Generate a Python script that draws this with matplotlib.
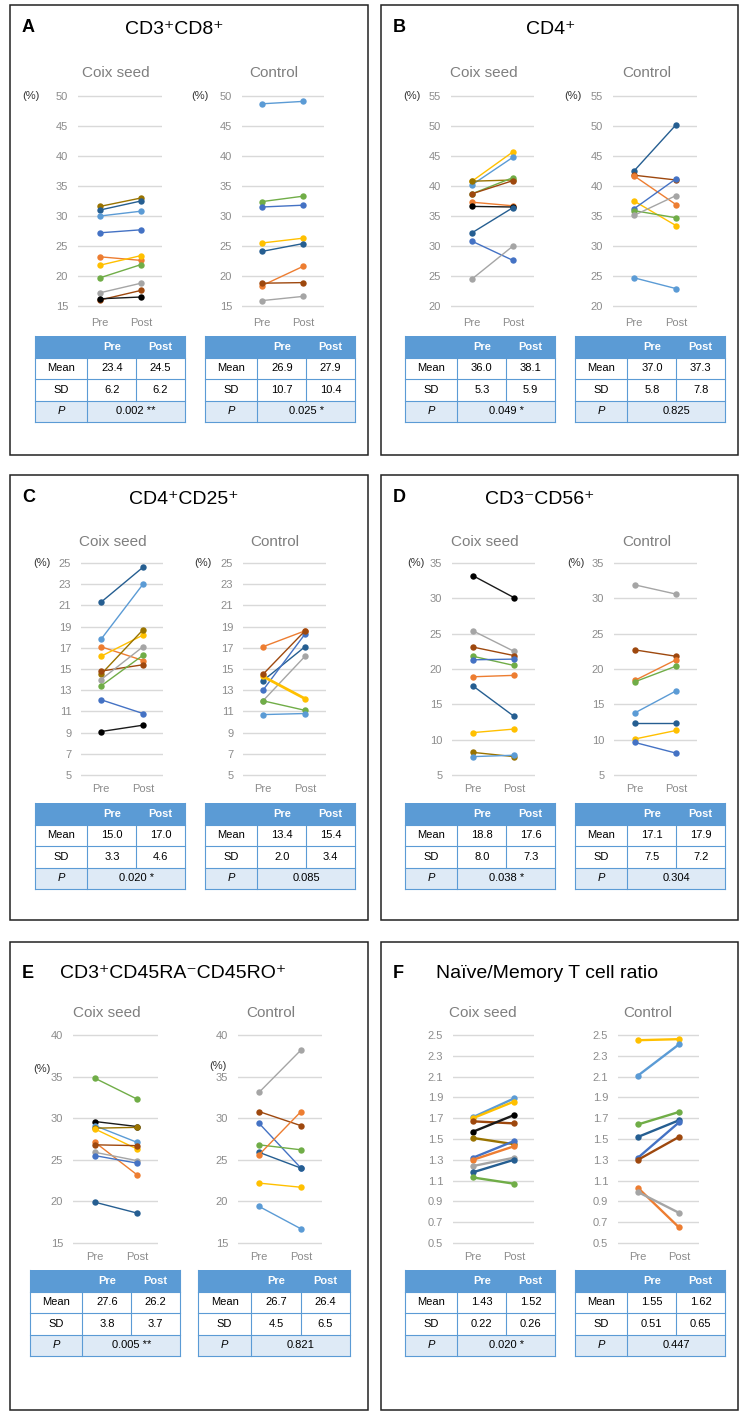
import matplotlib
matplotlib.use('Agg')
import matplotlib.pyplot as plt
from matplotlib.patches import Rectangle

plt.rcParams['font.family'] = ['Liberation Sans', 'DejaVu Sans']

# ---------------- data ----------------
letters = ['A', 'B', 'C', 'D', 'E', 'F']
titles = ['CD3\u207aCD8\u207a', 'CD4\u207a', 'CD4\u207aCD25\u207a', 'CD3\u207bCD56\u207a',
          'CD3\u207aCD45RA\u207bCD45RO\u207a', 'Na\u00efve/Memory T cell ratio']
groups = ['Coix seed', 'Control']
time_labels = ['Pre', 'Post']
row_labels = ['Mean', 'SD', 'P']

# Panel A: CD3+CD8+
A_yticks = [15, 20, 25, 30, 35, 40, 45, 50]
A_coix_pre = [31.6, 31.0, 30.0, 27.2, 23.2, 21.8, 19.7, 17.2, 16.0, 16.2]
A_coix_post = [33.0, 32.5, 30.8, 27.7, 22.6, 23.4, 21.9, 18.8, 17.6, 16.5]
A_coix_col = ['olive', 'dblue', 'lblue', 'blue', 'orange', 'yellow', 'green', 'gray', 'brown', 'black']
A_ctrl_pre = [48.7, 32.4, 31.5, 25.5, 24.1, 18.4, 18.8, 15.9]
A_ctrl_post = [49.1, 33.3, 31.8, 26.3, 25.4, 21.6, 18.9, 16.6]
A_ctrl_col = ['lblue', 'green', 'blue', 'yellow', 'dblue', 'orange', 'brown', 'gray']
A_coix_mean, A_coix_sd, A_coix_p = [23.4, 24.5], [6.2, 6.2], '0.002 **'
A_ctrl_mean, A_ctrl_sd, A_ctrl_p = [26.9, 27.9], [10.7, 10.4], '0.025 *'

# Panel B: CD4+
B_yticks = [20, 25, 30, 35, 40, 45, 50, 55]
B_coix_pre = [40.8, 40.2, 40.8, 38.7, 38.7, 37.3, 36.6, 32.2, 30.8, 24.5]
B_coix_post = [45.7, 44.8, 41.0, 41.4, 40.9, 36.7, 36.5, 36.4, 27.6, 30.0]
B_coix_col = ['yellow', 'lblue', 'olive', 'green', 'brown', 'orange', 'black', 'dblue', 'blue', 'gray']
B_ctrl_pre = [42.5, 41.8, 41.7, 37.5, 36.2, 35.9, 35.1, 24.7]
B_ctrl_post = [50.2, 41.0, 36.9, 33.4, 41.2, 34.7, 38.4, 22.9]
B_ctrl_col = ['dblue', 'brown', 'orange', 'yellow', 'blue', 'green', 'gray', 'lblue']
B_coix_mean, B_coix_sd, B_coix_p = [36.0, 38.1], [5.3, 5.9], '0.049 *'
B_ctrl_mean, B_ctrl_sd, B_ctrl_p = [37.0, 37.3], [5.8, 7.8], '0.825'

# Panel C: CD4+CD25+
C_yticks = [5, 7, 9, 11, 13, 15, 17, 19, 21, 23, 25]
C_coix_pre = [21.3, 17.8, 17.1, 16.2, 14.5, 14.8, 14.0, 13.4, 12.1, 9.1]
C_coix_post = [24.6, 23.0, 15.8, 18.2, 18.7, 15.4, 17.1, 16.3, 10.8, 9.7]
C_coix_col = ['dblue', 'lblue', 'orange', 'yellow', 'olive', 'brown', 'gray', 'green', 'blue', 'black']
C_ctrl_pre = [17.1, 13.9, 13.0, 12.0, 12.0, 10.7, 14.3, 14.5]
C_ctrl_post = [18.6, 17.1, 18.3, 16.2, 11.1, 10.8, 12.2, 18.6]
C_ctrl_col = ['orange', 'dblue', 'blue', 'gray', 'green', 'lblue', 'yellow', 'brown']
C_coix_mean, C_coix_sd, C_coix_p = [15.0, 17.0], [3.3, 4.6], '0.020 *'
C_ctrl_mean, C_ctrl_sd, C_ctrl_p = [13.4, 15.4], [2.0, 3.4], '0.085'

# Panel D: CD3-CD56+
D_yticks = [5, 10, 15, 20, 25, 30, 35]
D_coix_pre = [33.2, 25.4, 23.1, 21.8, 21.3, 18.9, 17.6, 11.0, 8.2, 7.6]
D_coix_post = [30.1, 22.5, 21.9, 20.5, 21.4, 19.1, 13.3, 11.5, 7.6, 7.8]
D_coix_col = ['black', 'gray', 'brown', 'green', 'blue', 'orange', 'dblue', 'yellow', 'olive', 'lblue']
D_ctrl_pre = [31.9, 22.7, 18.4, 18.2, 13.8, 12.4, 10.1, 9.6]
D_ctrl_post = [30.6, 21.8, 21.3, 20.4, 16.9, 12.4, 11.3, 8.1]
D_ctrl_col = ['gray', 'brown', 'orange', 'green', 'lblue', 'dblue', 'yellow', 'blue']
D_coix_mean, D_coix_sd, D_coix_p = [18.8, 17.6], [8.0, 7.3], '0.038 *'
D_ctrl_mean, D_ctrl_sd, D_ctrl_p = [17.1, 17.9], [7.5, 7.2], '0.304'

# Panel E: CD3+CD45RA-CD45RO+
E_yticks = [15, 20, 25, 30, 35, 40]
E_coix_pre = [34.8, 29.6, 29.1, 28.8, 28.7, 27.1, 26.8, 25.9, 25.5, 19.9]
E_coix_post = [32.3, 29.0, 27.1, 28.9, 26.3, 23.2, 26.7, 24.9, 24.6, 18.6]
E_coix_col = ['green', 'black', 'lblue', 'olive', 'yellow', 'orange', 'brown', 'gray', 'blue', 'dblue']
E_ctrl_pre = [33.1, 30.8, 29.4, 26.8, 25.9, 25.6, 22.2, 19.4]
E_ctrl_post = [38.2, 29.1, 24.0, 26.2, 24.0, 30.8, 21.7, 16.7]
E_ctrl_col = ['gray', 'brown', 'blue', 'green', 'dblue', 'orange', 'yellow', 'lblue']
E_coix_mean, E_coix_sd, E_coix_p = [27.6, 26.2], [3.8, 3.7], '0.005 **'
E_ctrl_mean, E_ctrl_sd, E_ctrl_p = [26.7, 26.4], [4.5, 6.5], '0.821'

# Panel F: Naive/Memory T cell ratio
F_yticks = [0.5, 0.7, 0.9, 1.1, 1.3, 1.5, 1.7, 1.9, 2.1, 2.3, 2.5]
F_coix_pre = [1.71, 1.70, 1.67, 1.57, 1.51, 1.32, 1.30, 1.24, 1.18, 1.13]
F_coix_post = [1.89, 1.86, 1.65, 1.73, 1.45, 1.48, 1.43, 1.32, 1.30, 1.07]
F_coix_col = ['lblue', 'yellow', 'brown', 'black', 'olive', 'blue', 'orange', 'gray', 'dblue', 'green']
F_ctrl_pre = [2.45, 2.11, 1.64, 1.52, 1.32, 1.30, 1.03, 0.99]
F_ctrl_post = [2.46, 2.41, 1.76, 1.68, 1.66, 1.52, 0.65, 0.79]
F_ctrl_col = ['yellow', 'lblue', 'green', 'dblue', 'blue', 'brown', 'orange', 'gray']
F_coix_mean, F_coix_sd, F_coix_p = [1.43, 1.52], [0.22, 0.26], '0.020 *'
F_ctrl_mean, F_ctrl_sd, F_ctrl_p = [1.55, 1.62], [0.51, 0.65], '0.447'

# ---------------- styles ----------------
COL = {'lblue': '#5B9BD5', 'dblue': '#255E91', 'blue': '#4472C4', 'orange': '#ED7D31',
       'brown': '#9E480E', 'gray': '#A5A5A5', 'yellow': '#FFC000', 'green': '#70AD47',
       'black': '#1A1A1A', 'olive': '#997300'}
HEAD = '#5B9BD5'
PFILL = '#DEEAF6'
GRID = '#D9D9D9'
TICKC = '#8C8C8C'
SUBC = '#7F7F7F'

W, H = 748, 1418
fig = plt.figure(figsize=(W / 100, H / 100), dpi=100)
ov = fig.add_axes([0, 0, 1, 1])
ov.set_xlim(0, W)
ov.set_ylim(H, 0)
ov.set_axis_off()

g = globals()

# layout (pixels)
L = {
    'A': dict(box=(10, 5, 368, 455), tx=174, ty=29, lx=22, ly=27, ytop=96, ybot=306, prey=323, subty=73,
              ax=[(78, 162, 100, 141), (242, 324, 262, 303)], subx=[116, 274],
              pct=[(31, 96), (200, 96)], tab=[(35, 185), (205, 355)], taby=336, lw=1.0),
    'B': dict(box=(381, 5, 738, 455), tx=551, ty=29, lx=393, ly=27, ytop=96, ybot=306, prey=323, subty=73,
              ax=[(451, 534, 472, 513), (613, 697, 634, 676)], subx=[484, 647],
              pct=[(412, 96), (573, 96)], tab=[(405, 555), (575, 725)], taby=336, lw=1.0),
    'C': dict(box=(10, 475, 368, 920), tx=184, ty=499, lx=22, ly=497, ytop=563, ybot=775, prey=790, subty=542,
              ax=[(81, 163, 101, 143), (243, 326, 263, 305)], subx=[113, 275],
              pct=[(42, 563), (203, 563)], tab=[(35, 185), (205, 355)], taby=803, lw=1.0),
    'D': dict(box=(381, 475, 738, 920), tx=540, ty=499, lx=393, ly=497, ytop=563, ybot=775, prey=790, subty=542,
              ax=[(452, 535, 473, 514), (614, 697, 635, 676)], subx=[485, 647],
              pct=[(416, 563), (576, 563)], tab=[(405, 555), (575, 725)], taby=803, lw=1.0),
    'E': dict(box=(10, 942, 368, 1410), tx=173, ty=974, lx=22, ly=973, ytop=1035, ybot=1243, prey=1258, subty=1013,
              ax=[(73, 158, 95, 137), (238, 322, 259, 301)], subx=[107, 271],
              pct=[(42, 1069), (218, 1066)], tab=[(30, 180), (198, 350)], taby=1270, lw=1.0),
    'F': dict(box=(381, 942, 738, 1410), tx=547, ty=974, lx=393, ly=973, ytop=1035, ybot=1243, prey=1258, subty=1013,
              ax=[(453, 534, 473, 514), (618, 699, 638, 679)], subx=[483, 648],
              pct=[], tab=[(405, 555), (575, 725)], taby=1270, lw=1.7),
}


def draw_table(x0, x1, y0, mean, sd, p, dec):
    rh = 21.5
    wl = (x1 - x0) * 0.35
    xs = [x0, x0 + wl, x0 + wl + (x1 - x0 - wl) / 2, x1]
    ov.add_patch(Rectangle((x0, y0), x1 - x0, rh, fc=HEAD, ec='none'))
    ov.add_patch(Rectangle((x0, y0 + rh), x1 - x0, 2 * rh, fc='white', ec='none'))
    ov.add_patch(Rectangle((x0, y0 + 3 * rh), x1 - x0, rh, fc=PFILL, ec='none'))
    lwb = 0.8
    for k in range(1, 5):
        ov.plot([x0, x1], [y0 + k * rh, y0 + k * rh], color=HEAD, lw=lwb)
    ov.plot([x0, x0], [y0, y0 + 4 * rh], color=HEAD, lw=lwb)
    ov.plot([x1, x1], [y0, y0 + 4 * rh], color=HEAD, lw=lwb)
    ov.plot([xs[1], xs[1]], [y0 + rh, y0 + 4 * rh], color=HEAD, lw=lwb)
    ov.plot([xs[2], xs[2]], [y0 + rh, y0 + 3 * rh], color=HEAD, lw=lwb)
    cx = [(xs[i] + xs[i + 1]) / 2 for i in range(3)]
    fs = 8
    for j, t in enumerate(time_labels):
        ov.text(cx[j + 1], y0 + rh / 2, t, color='white', fontweight='bold', fontsize=fs,
                ha='center', va='center')
    fmt = '%.' + str(dec) + 'f'
    for r, vals in enumerate([mean, sd]):
        yy = y0 + (r + 1.5) * rh
        ov.text(cx[0], yy, row_labels[r], fontsize=fs, ha='center', va='center')
        for j in range(2):
            ov.text(cx[j + 1], yy, fmt % vals[j], fontsize=fs, ha='center', va='center')
    yy = y0 + 3.5 * rh
    ov.text(cx[0], yy, row_labels[2], fontsize=fs, ha='center', va='center', style='italic')
    ov.text((xs[1] + xs[3]) / 2, yy, p, fontsize=fs, ha='center', va='center')


for pi, key in enumerate(letters):
    lay = L[key]
    bx0, by0, bx1, by1 = lay['box']
    ov.add_patch(Rectangle((bx0, by0), bx1 - bx0, by1 - by0, fc='none', ec='#222222', lw=1.1))
    ov.text(lay['lx'], lay['ly'], key, fontsize=13, fontweight='bold', ha='left', va='center')
    ov.text(lay['tx'], lay['ty'], titles[pi], fontsize=14, ha='center', va='center')
    ticks = g[key + '_yticks']
    dec = 2 if key == 'F' else 1
    for gi, gname in enumerate(['coix', 'ctrl']):
        pre = g[f'{key}_{gname}_pre']
        post = g[f'{key}_{gname}_post']
        cols = g[f'{key}_{gname}_col']
        gl, gr, p0, p1 = lay['ax'][gi]
        ytop, ybot = lay['ytop'], lay['ybot']
        pad = 4
        upp = (ticks[-1] - ticks[0]) / (ybot - ytop)
        rect = [gl / W, 1 - (ybot + pad) / H, (gr - gl) / W, (ybot - ytop + 2 * pad) / H]
        ax = fig.add_axes(rect)
        ax.patch.set_alpha(0)
        ax.set_xlim((gl - p0) / (p1 - p0), (gr - p0) / (p1 - p0))
        ax.set_ylim(ticks[0] - pad * upp, ticks[-1] + pad * upp)
        for s in ax.spines.values():
            s.set_visible(False)
        ax.set_yticks(ticks)
        if key == 'F':
            ax.set_yticklabels(['%.1f' % t for t in ticks])
        else:
            ax.set_yticklabels(['%d' % t for t in ticks])
        ax.grid(axis='y', color=GRID, lw=1.0)
        ax.set_axisbelow(True)
        ax.set_xticks([0, 1])
        ax.set_xticklabels(time_labels)
        ax.tick_params(axis='y', length=0, pad=7.0, labelsize=8, labelcolor=TICKC)
        xpad = (lay['prey'] - 5.5 - (ybot + pad)) * 0.72
        ax.tick_params(axis='x', length=0, pad=xpad, labelsize=8, labelcolor=TICKC)
        for a, b, c in zip(pre, post, cols):
            lw = lay['lw']
            if key == 'C' and gname == 'ctrl' and c == 'yellow':
                lw = 2.0
            ax.plot([0, 1], [a, b], color=COL[c], lw=lw, marker='o', ms=4.6,
                    mfc=COL[c] if c != 'black' else '#000000', mec='none', clip_on=False)
        ov.text(lay['subx'][gi], lay['subty'], groups[gi], fontsize=11, color=SUBC,
                ha='center', va='center')
        if lay['pct']:
            px, py = lay['pct'][gi]
            ov.text(px, py, '(%)', fontsize=8, color='#333333', ha='center', va='center')
        tx0, tx1 = lay['tab'][gi]
        draw_table(tx0, tx1, lay['taby'],
                   g[f'{key}_{gname}_mean'], g[f'{key}_{gname}_sd'], g[f'{key}_{gname}_p'], dec)

fig.savefig('out.png', dpi=100)
